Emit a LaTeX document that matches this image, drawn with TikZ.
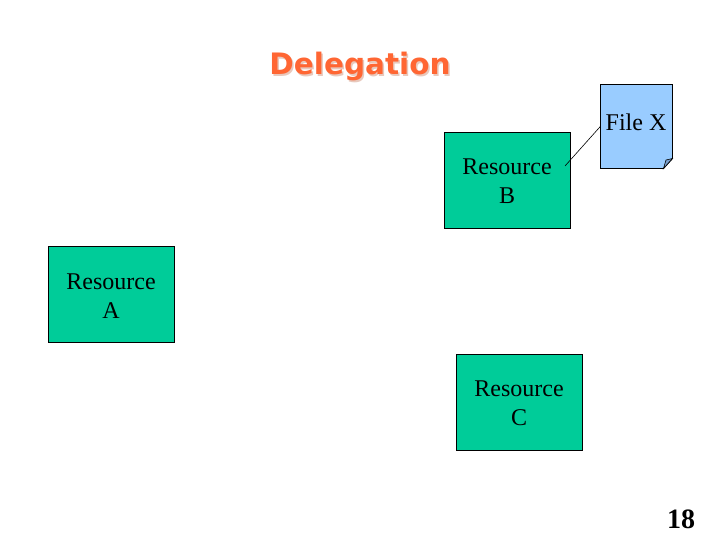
\documentclass[tikz,border=0pt]{standalone}
\usepackage{fontspec}
\setmainfont{Liberation Serif}
\newfontfamily\titlefont{DejaVu Sans}
\definecolor{resgreen}{HTML}{00CC99}
\definecolor{fileblue}{HTML}{99CCFF}
\definecolor{foldblue}{HTML}{7A9FCC}
\definecolor{titleorange}{HTML}{FF6633}
\definecolor{titleshadow}{HTML}{E8C8BC}
\tikzset{
  resource/.style={draw, line width=0.9pt, fill=resgreen, minimum width=126pt, minimum height=96pt,
    align=center, font=\fontsize{24}{29}\selectfont, inner sep=0pt},
}
\begin{document}
\begin{tikzpicture}[x=1pt, y=-1pt]
    \useasboundingbox (0,0) rectangle (720,540);

    % title, shadow first
    \node[font=\titlefont\bfseries\fontsize{29.5}{34}\selectfont, text=titleshadow] (titleShadow) at (361.5,68) {Delegation};
    \node[font=\titlefont\bfseries\fontsize{29.5}{34}\selectfont, text=titleorange] (title) at (360,66.5) {Delegation};

    \node[resource] (resA) at (111,294.5) {\rule{0pt}{18pt}Resource\\A};
    \node[resource] (resB) at (507,180.5) {\rule{0pt}{18pt}Resource\\B};
    \node[resource] (resC) at (519,402.5) {\rule{0pt}{18pt}Resource\\C};

    % the file sheet with its turned corner
    \draw[line width=0.9pt, fill=fileblue] (600.5,84.5) -- (672.5,84.5) -- (672.5,158.5) -- (663.5,168.5) -- (600.5,168.5) -- cycle;
    \draw[line width=0.6pt, fill=foldblue] (672.5,158.5) -- (666,160) -- (663.5,168.5) -- cycle;
    \node[minimum width=72pt, minimum height=84pt, inner sep=0pt] (fileX) at (636.5,126.5) {};
    \node[font=\fontsize{24}{29}\selectfont, inner sep=0pt] (fileLabel) at (636,122) {File X};

    \coordinate (resBtip) at (565,166);
    \draw[line width=0.6pt] (resBtip) -- (fileX.west);

    \node[font=\bfseries\fontsize{28}{32}\selectfont, inner sep=0pt] (pageNo) at (681,519) {18};
\end{tikzpicture}
\end{document}
